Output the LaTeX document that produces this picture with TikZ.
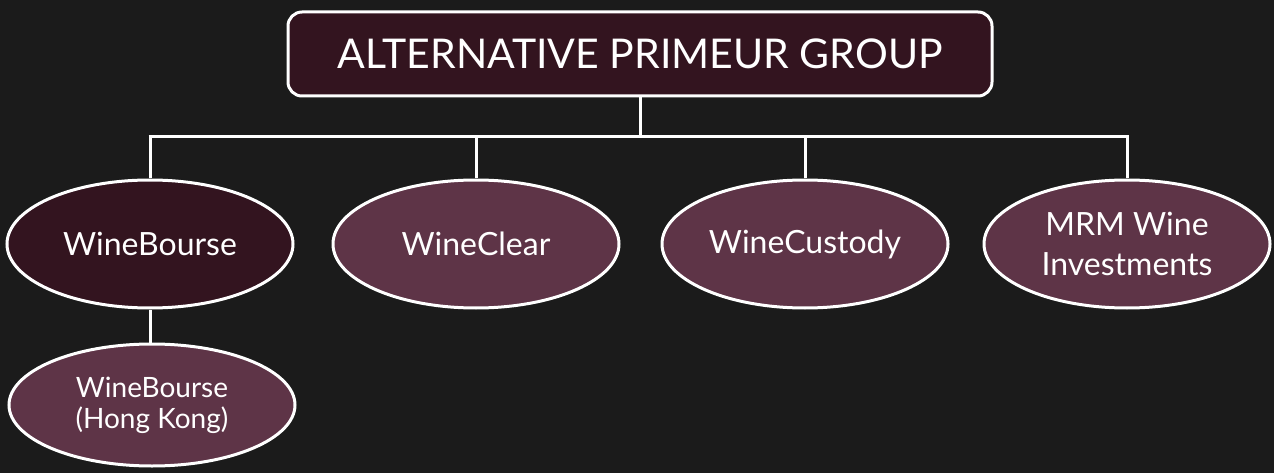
\documentclass[tikz,border=0pt]{standalone}
\usepackage{fontspec}
\setmainfont{Lato}
\usetikzlibrary{shapes.geometric}
\definecolor{bgc}{HTML}{1B1B1B}
\definecolor{darkwine}{HTML}{33141F}
\definecolor{wine}{HTML}{5E3447}
\tikzset{
  conn/.style={draw=white, line width=3pt},
  topbox/.style={draw=white, line width=3pt, fill=darkwine, rounded corners=14pt,
    minimum width=704pt, minimum height=84pt, inner sep=0pt, text=white,
    font=\fontsize{41}{45}\selectfont},
  oval/.style={ellipse, draw=white, line width=3pt, fill=wine, minimum width=286pt,
    minimum height=128pt, inner sep=0pt, text=white, align=center,
    font=\fontsize{32}{40}\selectfont},
  darkoval/.style={oval, fill=darkwine},
  suboval/.style={oval, minimum height=122pt, font=\fontsize{28}{31}\selectfont}
}
\begin{document}
\begin{tikzpicture}[x=1pt, y=-1pt]
\fill[bgc] (0,0) rectangle (1274,473);
\useasboundingbox (0,0) rectangle (1274,473);
\node[topbox] (top) at (640,54) {ALTERNATIVE PRIMEUR GROUP};
\node[darkoval] (wb) at (150,244) {WineBourse};
\node[oval] (wc) at (476,244) {WineClear};
\node[oval] (wcu) at (805,244) {WineCustody};
\node[oval] (mrm) at (1127,244) {MRM Wine\\Investments};
\node[suboval] (hk) at (152,405) {WineBourse\\(Hong Kong)};
\coordinate (bar) at (640,137);
\draw[conn] (top.south) -- (top.south |- bar);
\draw[conn] ([xshift=-1.5pt]wb.north |- bar) -- ([xshift=1.5pt]mrm.north |- bar);
\draw[conn] (wb.north |- bar) -- (wb.north);
\draw[conn] (wc.north |- bar) -- (wc.north);
\draw[conn] (wcu.north |- bar) -- (wcu.north);
\draw[conn] (mrm.north |- bar) -- (mrm.north);
\draw[conn] (wb.south) -- (wb.south |- hk.north);
\end{tikzpicture}
\end{document}
